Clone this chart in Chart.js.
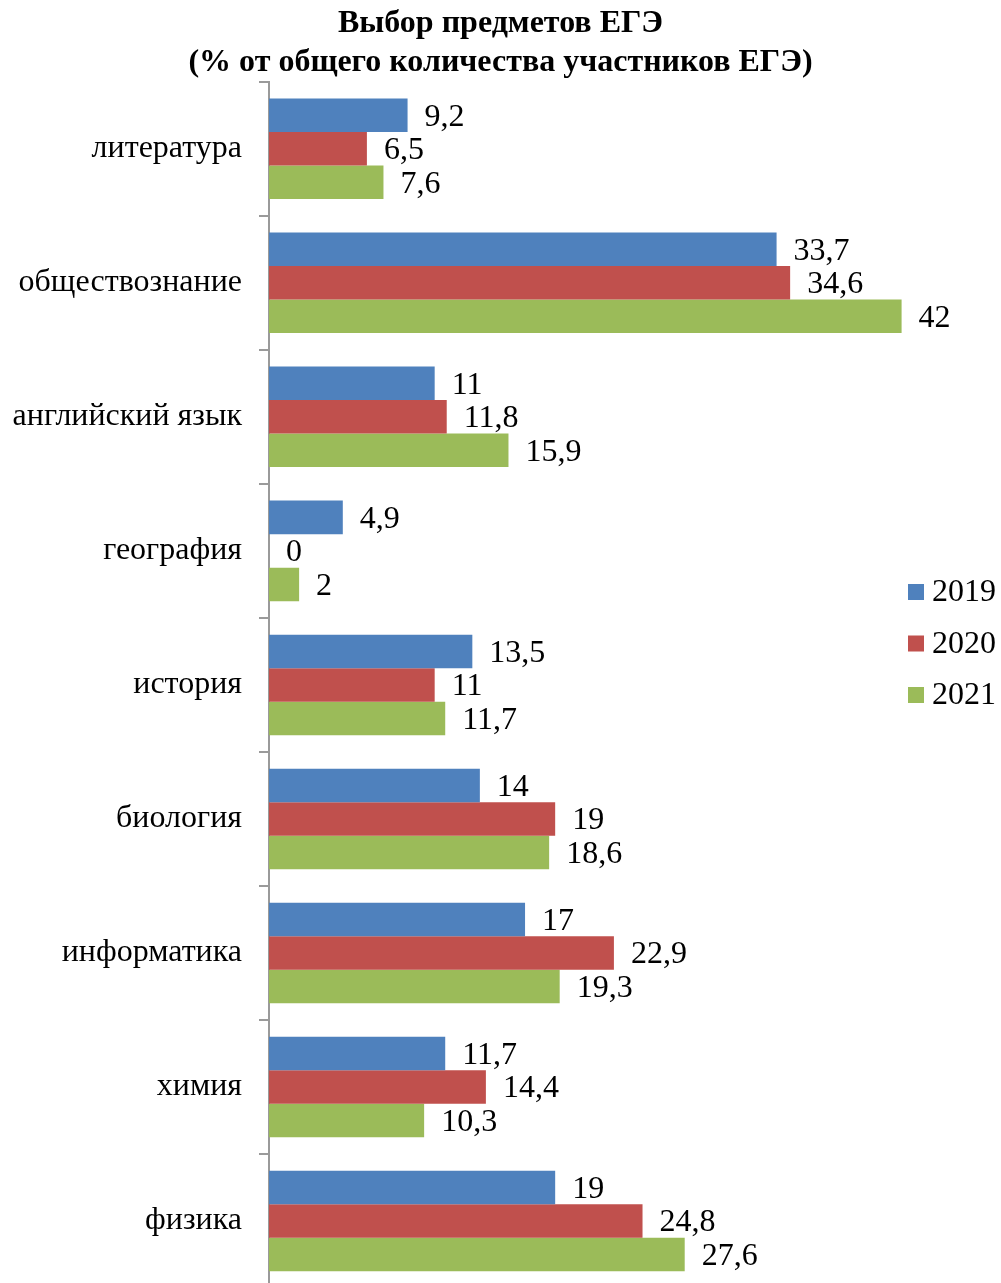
<!DOCTYPE html>
<html>
<head>
<meta charset="utf-8">
<script src="https://cdn.jsdelivr.net/npm/chart.js@4/dist/chart.umd.min.js"></script>
<style>
	body { margin: 0; background: #ffffff; overflow: hidden; }
	#wrap { width: 1001px; height: 1288px; position: relative; }
</style>
</head>
<body>
<div id="wrap"><canvas id="subjectsChart"></canvas></div>
<script>
var subjects = ['литература', 'обществознание', 'английский язык', 'география', 'история', 'биология', 'информатика', 'химия', 'физика'];
var years = ['2019', '2020', '2021'];
var values2019 = [9.2, 33.7, 11, 4.9, 13.5, 14, 17, 11.7, 19];
var values2020 = [6.5, 34.6, 11.8, 0, 11, 19, 22.9, 14.4, 24.8];
var values2021 = [7.6, 42, 15.9, 2, 11.7, 18.6, 19.3, 10.3, 27.6];
var yearColors = ['#4F81BD', '#C0504D', '#9BBB59'];

var serif = "'Liberation Serif', 'Times New Roman', serif";

// value labels to the right of every bar, with a decimal comma
var valueLabels = {
	'id': 'valueLabels',
	'afterDatasetsDraw': function (chart) {
		var ctx = chart.ctx;
		ctx.save();
		ctx.font = '32px ' + serif;
		ctx.fillStyle = '#000000';
		ctx.textAlign = 'left';
		ctx.textBaseline = 'middle';
		chart.data.datasets.forEach(function (dataset, i) {
			var meta = chart.getDatasetMeta(i);
			meta.data.forEach(function (bar, j) {
				var text = String(dataset.data[j]).replace('.', ',');
				ctx.fillText(text, bar.x + 17, bar.y + 2);
			});
		});
		ctx.restore();
	}
};

// legend on the right, drawn by hand so the spacing matches Excel
var sideLegend = {
	'id': 'sideLegend',
	'afterDraw': function (chart) {
		var ctx = chart.ctx;
		var x = chart.width - 93;
		var y = 592;
		ctx.save();
		ctx.font = '32px ' + serif;
		ctx.textAlign = 'left';
		ctx.textBaseline = 'middle';
		chart.data.datasets.forEach(function (dataset, i) {
			ctx.fillStyle = dataset.backgroundColor;
			ctx.fillRect(x, y + i * 51.5 - 8, 16, 16);
			ctx.fillStyle = '#000000';
			ctx.fillText(dataset.label, x + 24, y + i * 51.5 + 1);
		});
		ctx.restore();
	}
};

var data = {
	'labels': subjects,
	'datasets': [
		{ 'label': years[0], 'data': values2019, 'backgroundColor': yearColors[0] },
		{ 'label': years[1], 'data': values2020, 'backgroundColor': yearColors[1] },
		{ 'label': years[2], 'data': values2021, 'backgroundColor': yearColors[2] }
	]
};

var options = {
	'indexAxis': 'y',
	'responsive': true,
	'maintainAspectRatio': false,
	'animation': false,
	'categoryPercentage': 0.75,
	'barPercentage': 1.0,
	'layout': { 'padding': 0 },
	'scales': {
		'x': {
			'display': false,
			'min': 0,
			'max': 48.6
		},
		'y': {
			'afterFit': function (scale) {
				scale.width = 269;
				scale.paddingTop = 0;
				scale.paddingBottom = 0;
			},
			'border': { 'display': true, 'color': '#9a9a9a', 'width': 2 },
			'grid': { 'drawOnChartArea': false, 'offset': true, 'tickLength': 10, 'color': '#9a9a9a', 'lineWidth': 2 },
			'ticks': { 'color': '#000000', 'padding': 17, 'font': { 'family': serif, 'size': 32 } }
		}
	},
	'plugins': {
		'title': {
			'display': true,
			'text': ['Выбор предметов ЕГЭ', '(% от общего количества участников ЕГЭ)'],
			'color': '#000000',
			'font': { 'family': serif, 'size': 32, 'weight': 'bold', 'lineHeight': 1.2 },
			'padding': { 'top': 5, 'bottom': 0 }
		},
		'legend': { 'display': false },
		'tooltip': { 'enabled': false }
	}
};

var config = {
	'type': 'bar',
	'data': data,
	'options': options,
	'plugins': [valueLabels, sideLegend]
};

var barChart = new Chart(document.getElementById('subjectsChart'), config);
</script>
</body>
</html>
